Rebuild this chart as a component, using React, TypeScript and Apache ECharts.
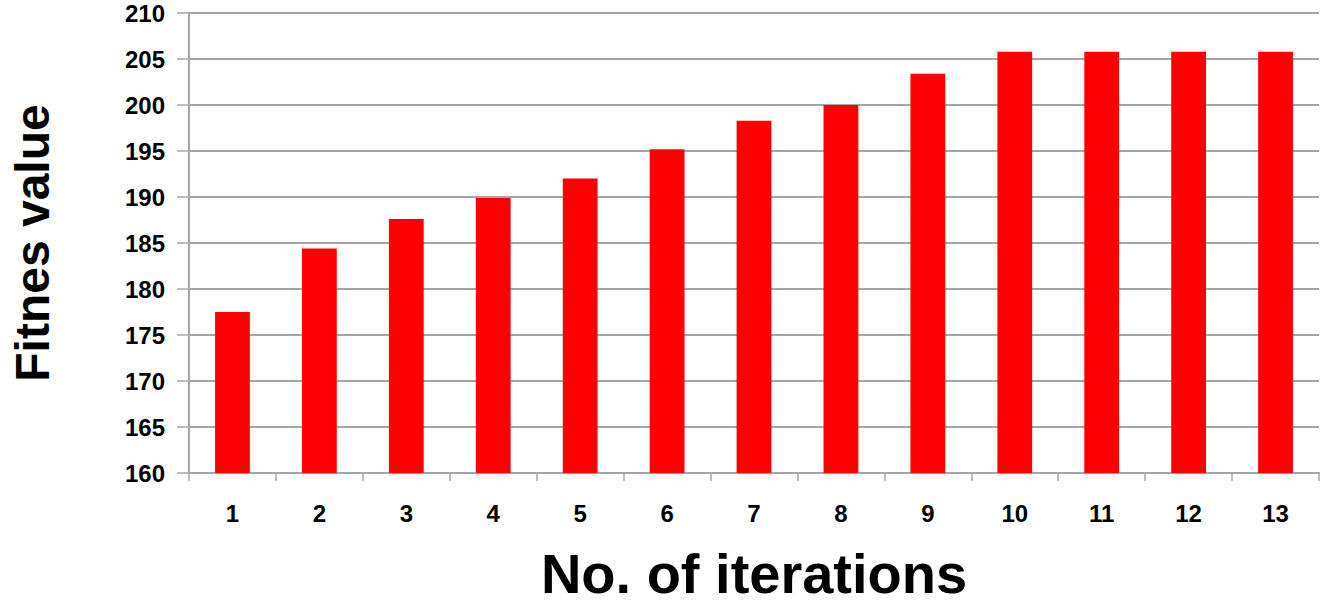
import React, { useEffect, useRef } from "react";
import * as echarts from "echarts";

const categories = ["1", "2", "3", "4", "5", "6", "7", "8", "9", "10", "11", "12", "13"];
const fitnessValues = [177.5, 184.4, 187.6, 189.9, 192.0, 195.2, 198.3, 200.0, 203.4, 205.8, 205.8, 205.8, 205.8];
const yMin = 160;
const yMax = 210;
const yStep = 5;
const xTitle = "No. of iterations";
const yTitle = "Fitnes value";

export default function App() {
  const ref = useRef<HTMLDivElement>(null);
  useEffect(() => {
    if (!ref.current) return;
    const chart = echarts.init(ref.current, null, { renderer: "svg", width: 1323, height: 606 });
    const font = "'Liberation Sans', Arial, sans-serif";
    chart.setOption({
      animation: false,
      backgroundColor: "#ffffff",
      grid: { left: 163, width: 1156, top: 13, height: 469, containLabel: false },
      xAxis: {
        type: "category",
        data: categories,
        name: xTitle,
        nameLocation: "middle",
        nameGap: 72,
        nameTextStyle: { fontSize: 56, fontWeight: "bold", color: "#000", fontFamily: font },
        axisLine: { lineStyle: { color: "#a6a6a6", width: 2 } },
        axisTick: { show: true, length: 8, lineStyle: { color: "#a6a6a6", width: 1.5 } },
        axisLabel: { margin: 28, fontSize: 24, fontWeight: "bold", color: "#000", fontFamily: font },
      },
      yAxis: {
        type: "value",
        min: yMin,
        max: yMax,
        interval: yStep,
        name: yTitle,
        nameLocation: "middle",
        nameGap: 133,
        nameRotate: 90,
        nameTextStyle: { fontSize: 48, fontWeight: "bold", color: "#000", fontFamily: font },
        axisLine: { show: true, lineStyle: { color: "#a6a6a6", width: 2 } },
        axisTick: { show: true, length: 12, lineStyle: { color: "#a6a6a6", width: 1.5 } },
        axisLabel: { margin: 24, fontSize: 24, fontWeight: "bold", color: "#000", fontFamily: font },
        splitLine: { show: true, lineStyle: { color: "#a6a6a6", width: 2 } },
      },
      series: [
        {
          type: "bar",
          data: fitnessValues,
          barWidth: "40%",
          itemStyle: { color: "#ff0000" },
        },
      ],
    });
    return () => chart.dispose();
  }, []);
  return (
    <div
      ref={ref}
      style={{ position: "absolute", left: 0, top: 0, width: 1323, height: 606, background: "#fff" }}
    />
  );
}
